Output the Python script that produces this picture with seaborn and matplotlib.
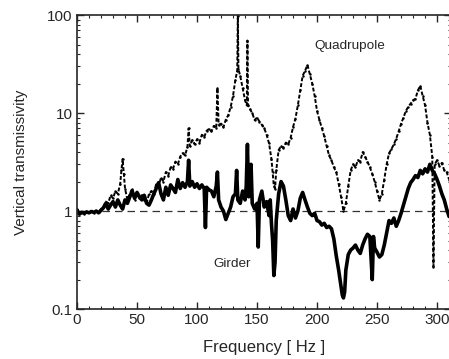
import matplotlib
matplotlib.use("Agg")
import matplotlib.pyplot as plt
import seaborn as sns
import numpy as np
from matplotlib.ticker import MultipleLocator, LogLocator, FixedLocator, FixedFormatter, NullFormatter

# Quadrupole transmissivity
quad_hz = [0, 2, 4, 6, 8, 10, 12, 14, 16, 18, 20, 22, 24, 26, 28, 30, 32, 34, 36, 37, 38, 39, 40,
           42, 44, 46, 48, 50, 52, 54, 56, 58, 60, 62, 64, 66, 68, 70, 72, 74, 76, 78, 80, 82, 84,
           86, 88, 90, 92, 93, 94, 96, 98, 100, 102, 104, 106, 108, 110, 112, 114, 116, 117, 118,
           120, 122, 124, 126, 128, 130, 132, 133.5, 134, 134.5, 136, 138, 140, 141.5, 142, 142.5,
           144, 146, 148, 150, 152, 154, 156, 158, 160, 162, 163, 164, 165, 166, 168, 170, 172,
           174, 176, 178, 180, 182, 184, 186, 188, 190, 192, 194, 196, 198, 200, 202, 204, 206,
           208, 210, 212, 214, 216, 218, 220, 222, 224, 226, 228, 230, 232, 234, 236, 238, 240,
           242, 244, 246, 248, 250, 252, 254, 256, 258, 260, 262, 264, 266, 268, 270, 272, 274,
           276, 278, 280, 282, 284, 286, 288, 290, 292, 294, 296, 297, 298, 300, 302, 304, 306,
           308, 310]
quad_val = [1.05, 0.95, 0.98, 0.94, 0.99, 0.97, 1.0, 0.96, 1.01, 0.98, 1.05, 1.1, 1.25, 1.2, 1.45,
            1.35, 1.6, 1.5, 1.9, 2.6, 3.4, 2.4, 1.7,
            1.3, 1.5, 1.7, 1.3, 1.5, 1.35, 1.45, 1.3, 1.2, 1.5, 1.6, 1.5, 1.9, 1.8, 2.2, 2.0, 2.5,
            2.3, 2.8, 2.7, 3.2, 3.0,
            3.6, 3.9, 3.7, 4.5, 7.0, 4.6, 5.3, 4.8, 5.4, 5.0, 6.0, 5.7, 6.6, 6.9, 6.5, 7.4, 7.0,
            18, 7.6,
            7.8, 7.2, 8.6, 9.5, 11.5, 15, 22, 27, 98, 28, 24, 18, 13.5, 12, 55, 12,
            11, 10, 8.5, 9.0, 8.2, 7.6, 7.0, 6.0, 4.9, 3.4, 2.5, 1.8, 1.7, 2.6, 4.2, 4.6, 4.4,
            5.0, 4.8, 5.6, 7.2, 8.8, 12, 17, 24, 27, 31, 25, 20, 15, 10.5, 8.5, 7.0, 5.8,
            4.6, 3.7, 3.3, 2.8, 2.5, 1.9, 1.4, 1.0, 1.2, 1.8, 2.6, 3.0, 2.8, 3.3, 3.2, 4.0, 3.6,
            3.2, 2.8, 2.4, 2.0, 1.6, 1.3, 1.5, 2.1, 3.0, 3.9, 4.3, 4.8, 5.5, 6.5, 7.8, 9.0, 10.5,
            11.6, 12.5, 13.5, 14, 17, 19, 15, 12, 8, 6.0, 3.6, 0.27, 3.0, 3.3, 2.9, 3.1, 2.6,
            2.5, 2.1]

# Girder transmissivity
gird_hz = [0, 2, 4, 6, 8, 10, 12, 14, 16, 18, 20, 22, 24, 26, 28, 30, 32, 34, 36, 38, 40, 42, 44,
           46, 48, 50, 52, 54, 56, 58, 60, 62, 64, 66, 68, 70, 72, 74, 76, 78, 80, 82, 84, 86, 88,
           90, 92, 93, 94, 96, 98, 100, 102, 104, 106, 107, 108, 110, 112, 114, 116, 117, 118,
           120, 122, 124, 126, 128, 130, 132, 133, 134, 136, 138, 140, 141, 142, 143, 144, 145,
           146, 148, 150, 151, 152, 154, 156, 158, 160, 161, 162, 163, 164, 165, 166, 168, 170,
           172, 174, 176, 178, 180, 182, 184, 186, 188, 190, 192, 194, 196, 198, 200, 202, 204,
           206, 208, 210, 212, 214, 216, 218, 220, 221, 222, 223, 224, 226, 228, 230, 232, 234,
           236, 238, 240, 242, 244, 246, 247, 248, 250, 252, 254, 256, 258, 260, 262, 264, 266,
           268, 270, 272, 274, 276, 278, 280, 282, 284, 286, 288, 290, 292, 294, 296, 298, 300,
           302, 304, 306, 308, 310]
gird_val = [1.02, 0.93, 0.97, 0.95, 0.98, 0.96, 0.99, 0.97, 1.0, 0.96, 1.02, 1.08, 1.2, 1.05,
            1.15, 1.25, 1.1, 1.3, 1.15, 1.05, 1.3, 1.2, 1.4,
            1.6, 1.35, 1.55, 1.4, 1.3, 1.45, 1.2, 1.15, 1.3, 1.5, 1.7, 1.95, 1.5, 1.3, 1.75, 1.45,
            1.85, 1.7, 1.55, 2.1, 1.7, 1.95,
            1.75, 2.0, 3.3, 1.8, 2.0, 1.75, 1.9, 1.7, 1.85, 1.7, 0.68, 1.75, 1.65, 1.6, 1.4, 1.8,
            2.5, 1.3,
            1.1, 1.0, 0.82, 0.95, 1.1, 1.4, 1.5, 2.6, 1.3, 1.2, 1.6, 1.3, 1.8, 4.8, 1.4, 1.8, 3.0,
            1.2, 1.05, 1.2, 0.43, 1.3, 1.6, 1.1, 1.25, 0.9, 1.3, 0.75, 0.5, 0.22, 0.3, 0.8, 1.5,
            2.0,
            1.8, 1.3, 0.9, 0.8, 1.05, 0.85, 1.0, 1.35, 1.55, 1.3, 1.1, 0.95, 0.9, 0.95, 0.8, 0.78,
            0.72,
            0.75, 0.68, 0.7, 0.66, 0.52, 0.35, 0.25, 0.17, 0.14, 0.13, 0.15, 0.25, 0.36, 0.4, 0.42,
            0.45, 0.4,
            0.37, 0.45, 0.52, 0.58, 0.55, 0.2, 0.55, 0.42, 0.38, 0.34, 0.36, 0.45, 0.6, 0.8, 0.75,
            0.85, 0.7,
            0.8, 0.95, 1.15, 1.4, 1.7, 1.95, 2.1, 2.3, 2.2, 2.6, 2.4, 2.7, 2.5, 3.0, 2.6, 2.4, 2.1,
            1.8, 1.5, 1.3, 1.05, 0.88]

y_ticks = [0.1, 1, 10, 100]
y_tick_labels = ["0.1", "1", "10", "100"]

sns.set_style("ticks")
plt.rcParams["font.family"] = ["Liberation Sans", "DejaVu Sans"]

fig = plt.figure(figsize=(4.49, 3.59), dpi=100)
# right spine sits just past the image edge, like the original crop
ax = fig.add_axes([0.1715, 0.139, 0.834, 0.819])

sns.lineplot(x=quad_hz, y=quad_val, ax=ax, color="black", lw=1.4,
             estimator=None, sort=False, linestyle=(0, (2, 1)),
             marker=".", markersize=3.5, markeredgewidth=0)
sns.lineplot(x=gird_hz, y=gird_val, ax=ax, color="black", lw=2.6,
             estimator=None, sort=False)
ax.axhline(1, color="#333333", lw=0.9, ls=(0, (6, 4)), zorder=1)

ax.set_yscale("log")
ax.set_xlim(0, 312)
ax.set_ylim(0.1, 100)

ax.xaxis.set_major_locator(MultipleLocator(50))
ax.xaxis.set_minor_locator(MultipleLocator(10))
ax.yaxis.set_major_locator(FixedLocator(y_ticks))
ax.yaxis.set_major_formatter(FixedFormatter(y_tick_labels))
ax.yaxis.set_minor_locator(LogLocator(base=10, subs=np.arange(2, 10)))
ax.yaxis.set_minor_formatter(NullFormatter())
ax.tick_params(which="both", direction="in", top=True, right=True, labelsize=11, pad=3)
ax.tick_params(which="major", length=5, width=1)
ax.tick_params(which="minor", length=2.5, width=0.8)
for s in ax.spines.values():
    s.set_linewidth(1.2)

ax.text(227, 48, "Quadrupole", fontsize=9.7, ha="center", va="center")
ax.text(129, 0.29, "Girder", fontsize=9.7, ha="center", va="center")

ax.set_xlabel("Frequency [ Hz ]", fontsize=12, labelpad=9)
ax.set_ylabel("Vertical transmissivity", fontsize=11, labelpad=14)

fig.savefig("out.png", dpi=100)
